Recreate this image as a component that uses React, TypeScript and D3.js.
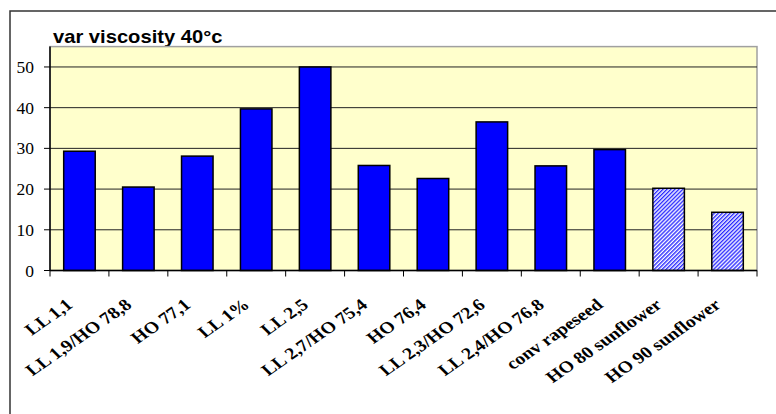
import React from "react";
import * as d3 from "d3";

const categories = [
  "LL 1,1",
  "LL 1,9/HO 78,8",
  "HO 77,1",
  "LL 1%",
  "LL 2,5",
  "LL 2,7/HO 75,4",
  "HO 76,4",
  "LL 2,3/HO 72,6",
  "LL 2,4/HO 76,8",
  "conv rapeseed",
  "HO 80 sunflower",
  "HO 90 sunflower",
];
const values = [29.3, 20.5, 28.1, 39.7, 50.0, 25.8, 22.6, 36.5, 25.7, 29.7, 20.2, 14.3];
const hatched = [false, false, false, false, false, false, false, false, false, false, true, true];
const yTicks = [0, 10, 20, 30, 40, 50];
const title = "var viscosity 40°c";

export default function App() {
  const W = 776, H = 414;
  const left = 50, right = 757, top = 46.6, bottom = 270.5;
  const x = d3.scaleBand<string>().domain(categories).range([left, right]).paddingInner(0.465).paddingOuter(0.2325);
  const y = d3.scaleLinear().domain([0, 55]).range([bottom, top]);
  const step = x.step();

  return (
    <svg width={W} height={H} style={{ position: "absolute", left: 0, top: 0, display: "block", background: "#fff" }}>
      <defs>
        <pattern id="hatch" width="2.8" height="2.8" patternUnits="userSpaceOnUse" patternTransform="rotate(45)">
          <rect width="2.8" height="2.8" fill="#ffffff" />
          <rect width="1.4" height="2.8" fill="#2a2aff" />
        </pattern>
      </defs>
      <rect x={10} y={11} width={820} height={500} fill="none" stroke="#333" strokeWidth={1.5} />
      <text
        transform={`translate(53,42.5) scale(1.12,1)`}
        fontFamily="Liberation Sans, Arial, sans-serif"
        fontWeight="bold"
        fontSize={18}
        fill="#000"
      >
        {title}
      </text>
      <rect x={left} y={top} width={right - left} height={bottom - top} fill="#FFFFCC" stroke="#a0a0a0" strokeWidth={1.5} />
      {yTicks.filter((t) => t > 0).map((t) => (
        <line key={"g" + t} x1={left} x2={right} y1={y(t)} y2={y(t)} stroke="#222" strokeWidth={1} />
      ))}
      {categories.map((c, i) => (
        <rect
          key={c}
          x={x(c)!}
          y={y(values[i])}
          width={x.bandwidth()}
          height={y(0) - y(values[i])}
          fill={hatched[i] ? "url(#hatch)" : "#0000FF"}
          stroke="#000"
          strokeWidth={1.5}
        />
      ))}
      <line x1={left} x2={left} y1={top} y2={bottom} stroke="#000" strokeWidth={1.5} />
      <line x1={left} x2={right} y1={bottom} y2={bottom} stroke="#000" strokeWidth={1.5} />
      {yTicks.map((t) => (
        <g key={"t" + t}>
          <line x1={left - 6} x2={left} y1={y(t)} y2={y(t)} stroke="#000" strokeWidth={1} />
          <text x={34} y={y(t)} dy="0.35em" textAnchor="end" fontFamily="Liberation Serif, Times New Roman, serif" fontSize={17.5} fill="#000">
            {t}
          </text>
        </g>
      ))}
      {d3.range(categories.length + 1).map((i) => (
        <line key={"xt" + i} x1={left + i * step} x2={left + i * step} y1={bottom} y2={bottom + 6} stroke="#000" strokeWidth={1} />
      ))}
      {categories.map((c) => {
        const cx = x(c)! + x.bandwidth() / 2;
        return (
          <text
            key={"l" + c}
            transform={`translate(${cx - 10},${302}) scale(1.2,1) rotate(-40)`}
            textAnchor="end"
            dy="0.35em"
            fontFamily="Liberation Serif, Times New Roman, serif"
            fontWeight="bold"
            fontSize={16.5}
            fill="#000"
          >
            {c}
          </text>
        );
      })}
    </svg>
  );
}
